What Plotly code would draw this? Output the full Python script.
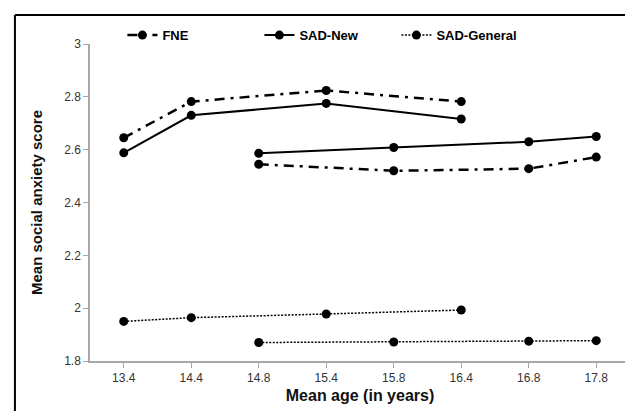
import plotly.graph_objects as go

categories = ["13.4", "14.4", "14.8", "15.4", "15.8", "16.4", "16.8", "17.8"]
cohort1_x = ["13.4", "14.4", "15.4", "16.4"]
cohort2_x = ["14.8", "15.8", "16.8", "17.8"]

fne_c1 = [2.645, 2.782, 2.824, 2.782]
fne_c2 = [2.545, 2.520, 2.528, 2.572]
sadnew_c1 = [2.588, 2.730, 2.775, 2.716]
sadnew_c2 = [2.586, 2.608, 2.630, 2.650]
sadgen_c1 = [1.950, 1.964, 1.978, 1.993]
sadgen_c2 = [1.870, 1.872, 1.875, 1.877]

series = [
    ("FNE", fne_c1, fne_c2, dict(color="black", width=2.5, dash="10px,6px,3px,6px")),
    ("SAD-New", sadnew_c1, sadnew_c2, dict(color="black", width=2, dash="solid")),
    ("SAD-General", sadgen_c1, sadgen_c2, dict(color="black", width=1.5, dash="2px,1.5px")),
]

fig = go.Figure()
for name, c1, c2, line in series:
    for i, (xs, ys) in enumerate([(cohort1_x, c1), (cohort2_x, c2)]):
        fig.add_trace(go.Scatter(
            x=xs, y=ys, mode="lines+markers", name=name,
            line=line, marker=dict(symbol="circle", size=9, color="black"),
            showlegend=(i == 0), legendgroup=name,
        ))

fig.update_layout(
    width=633, height=411,
    margin=dict(l=82, r=11, t=36, b=58),
    paper_bgcolor="white", plot_bgcolor="white",
    font=dict(family="Liberation Sans, Arial, sans-serif", color="#222"),
    showlegend=True,
    legend=dict(orientation="h", x=0.06, xanchor="left", y=1.028, yanchor="middle",
                font=dict(size=13, color="black", family="Liberation Sans, Arial, sans-serif", weight="bold"),
                bgcolor="rgba(0,0,0,0)", entrywidth=92, tracegroupgap=0),
    xaxis=dict(type="category", categoryorder="array", categoryarray=categories,
               range=[-0.5, 7.5], showline=True, linecolor="#a8a8a8", linewidth=1.5,
               ticks="outside", ticklen=5, tickcolor="#a8a8a8", showgrid=False, zeroline=False,
               tickfont=dict(size=12, color="#333"),
               title=dict(text="<b>Mean age (in years)</b>", font=dict(size=16, color="#111"), standoff=6)),
    yaxis=dict(range=[1.8, 3.0], tickvals=[1.8, 2.0, 2.2, 2.4, 2.6, 2.8, 3.0],
               ticktext=["1.8", "2", "2.2", "2.4", "2.6", "2.8", "3"],
               showline=True, linecolor="#a8a8a8", linewidth=1.5,
               ticks="outside", ticklen=5, tickcolor="#a8a8a8", showgrid=False, zeroline=False,
               tickfont=dict(size=12, color="#333"),
               title=dict(text="<b>Mean social anxiety score</b>", font=dict(size=15, color="#111"), standoff=18)),
)

# image frame (top and left edges)
fig.add_shape(type="line", xref="paper", yref="paper", x0=-0.139, x1=1.1, y0=1.0915, y1=1.0915,
              line=dict(color="black", width=2))
fig.add_shape(type="line", xref="paper", yref="paper", x0=-0.139, x1=-0.139, y0=1.0915, y1=-0.25,
              line=dict(color="black", width=2))

fig.write_html("out.html")
